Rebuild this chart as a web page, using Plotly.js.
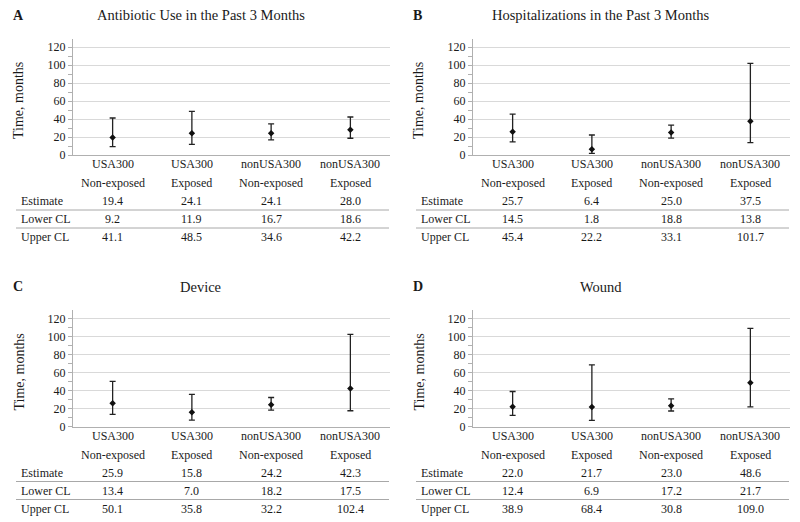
<!DOCTYPE html>
<html>
<head>
<meta charset="utf-8">
<script src="https://cdn.plot.ly/plotly-3.0.1.min.js"></script>
<style>html,body{margin:0;padding:0;background:#fff;}#chart{width:800px;height:522px;}</style>
</head>
<body>
<div id="chart"></div>
<script>
// ---- data ----
const groups = ['USA300', 'USA300', 'nonUSA300', 'nonUSA300'];
const exposure = ['Non-exposed', 'Exposed', 'Non-exposed', 'Exposed'];
const panelLetters = ['A', 'B', 'C', 'D'];
const panelTitles = ['Antibiotic Use in the Past 3 Months', 'Hospitalizations in the Past 3 Months', 'Device', 'Wound'];
const rowLabels = ['Estimate', 'Lower CL', 'Upper CL'];

const estAntibiotic = [19.4, 24.1, 24.1, 28.0];
const lowAntibiotic = [9.2, 11.9, 16.7, 18.6];
const upAntibiotic  = [41.1, 48.5, 34.6, 42.2];

const estHospital = [25.7, 6.4, 25.0, 37.5];
const lowHospital = [14.5, 1.8, 18.8, 13.8];
const upHospital  = [45.4, 22.2, 33.1, 101.7];

const estDevice = [25.9, 15.8, 24.2, 42.3];
const lowDevice = [13.4, 7.0, 18.2, 17.5];
const upDevice  = [50.1, 35.8, 32.2, 102.4];

const estWound = [22.0, 21.7, 23.0, 48.6];
const lowWound = [12.4, 6.9, 17.2, 21.7];
const upWound  = [38.9, 68.4, 30.8, 109.0];

const yTicks = [0, 20, 40, 60, 80, 100, 120];

// ---- layout helpers ----
const W = 800, H = 522;
const px = v => v / W;
const py = v => 1 - v / H;
const FONT = '"Liberation Serif", "Times New Roman", serif';
const TXT = '#1a1a1a';

const panels = [
  {est: estAntibiotic, low: lowAntibiotic, up: upAntibiotic, dx: 0, dy: 0},
  {est: estHospital, low: lowHospital, up: upHospital, dx: 400, dy: 0},
  {est: estDevice, low: lowDevice, up: upDevice, dx: 0, dy: 271.5},
  {est: estWound, low: lowWound, up: upWound, dx: 400, dy: 271.5}
];

const cats = groups.map((g, i) => g + ' ' + exposure[i]);
const traces = [];
const layout = {
  width: W, height: H,
  margin: {l: 0, r: 0, t: 0, b: 0},
  paper_bgcolor: '#fff', plot_bgcolor: '#fff',
  showlegend: false,
  font: {family: FONT, color: TXT, size: 12},
  annotations: [], shapes: []
};

panels.forEach((p, k) => {
  const n = k === 0 ? '' : String(k + 1);
  const xa = 'x' + n, ya = 'y' + n;
  const Ymax = 129;
  const yZero = 155 + p.dy, yTop = 155 + p.dy - Ymax * 0.9;
  traces.push({
    type: 'scatter', mode: 'markers',
    x: cats, y: p.est,
    xaxis: xa, yaxis: ya,
    marker: {symbol: 'diamond', size: 5, color: '#111'},
    error_y: {
      type: 'data', symmetric: false,
      array: p.up.map((u, i) => u - p.est[i]),
      arrayminus: p.est.map((e, i) => e - p.low[i]),
      color: '#222', thickness: 1.3, width: 3
    },
    hoverinfo: 'skip'
  });
  layout['xaxis' + n] = {
    domain: [px(73 + p.dx), px(390 + p.dx)],
    anchor: ya, type: 'category', categoryarray: cats,
    range: [-0.5, 3.5], showticklabels: false, ticks: '',
    showgrid: false, zeroline: false,
    showline: true, linecolor: '#b0b0b0', linewidth: 1
  };
  layout['yaxis' + n] = {
    domain: [py(yZero), py(yTop)],
    anchor: xa, range: [0, Ymax],
    tickvals: yTicks, ticks: 'outside', ticklen: 4, tickcolor: '#b0b0b0',
    minor: {dtick: 10, tick0: 0, ticks: 'outside', ticklen: 4, tickcolor: '#b0b0b0', showgrid: false},
    tickfont: {family: FONT, size: 12, color: TXT},
    showgrid: true, gridcolor: '#d9d9d9', gridwidth: 1,
    zeroline: false, showline: true, linecolor: '#b0b0b0', linewidth: 1
  };
  // panel letter and title
  layout.annotations.push({
    xref: 'paper', yref: 'paper', x: px(11 + p.dx), y: py(15 + p.dy),
    xanchor: 'left', yanchor: 'middle', showarrow: false,
    text: '<b>' + panelLetters[k] + '</b>', font: {family: FONT, size: 14, color: TXT}
  });
  layout.annotations.push({
    xref: 'paper', yref: 'paper', x: px(200.5 + p.dx), y: py(15 + p.dy),
    xanchor: 'center', yanchor: 'middle', showarrow: false,
    text: panelTitles[k], font: {family: FONT, size: 14.5, color: TXT}
  });
  // y title
  layout.annotations.push({
    xref: 'paper', yref: 'paper', x: px(19 + p.dx), y: py(101 + p.dy),
    xanchor: 'center', yanchor: 'middle', showarrow: false, textangle: -90,
    text: 'Time, months', font: {family: FONT, size: 14, color: TXT}
  });
  // table: category header lines
  cats.forEach((c, i) => {
    layout.annotations.push({
      xref: xa, yref: 'paper', x: c, y: py(164 + p.dy),
      xanchor: 'center', yanchor: 'middle', showarrow: false,
      text: groups[i], font: {family: FONT, size: 12, color: TXT}
    });
    layout.annotations.push({
      xref: xa, yref: 'paper', x: c, y: py(183 + p.dy),
      xanchor: 'center', yanchor: 'middle', showarrow: false,
      text: exposure[i], font: {family: FONT, size: 12, color: TXT}
    });
  });
  const rows = [p.est, p.low, p.up];
  const rowY = [201, 219, 237];
  rows.forEach((vals, r) => {
    layout.annotations.push({
      xref: 'paper', yref: 'paper', x: px(19 + p.dx), y: py(rowY[r] + p.dy),
      xanchor: 'left', yanchor: 'middle', showarrow: false,
      text: rowLabels[r], font: {family: FONT, size: 12, color: TXT}
    });
    vals.forEach((v, i) => {
      layout.annotations.push({
        xref: xa, yref: 'paper', x: cats[i], y: py(rowY[r] + p.dy),
        xanchor: 'center', yanchor: 'middle', showarrow: false,
        text: v.toFixed(1), font: {family: FONT, size: 12, color: TXT}
      });
    });
  });
  [210, 228].forEach(yy => {
    layout.shapes.push({
      type: 'line', xref: 'paper', yref: 'paper',
      x0: px(16 + p.dx), x1: px(389 + p.dx), y0: py(yy + p.dy), y1: py(yy + p.dy),
      line: {color: '#a8a8a8', width: 1}
    });
  });
});

Plotly.newPlot('chart', traces, layout, {displayModeBar: false, staticPlot: true});
</script>
</body>
</html>
